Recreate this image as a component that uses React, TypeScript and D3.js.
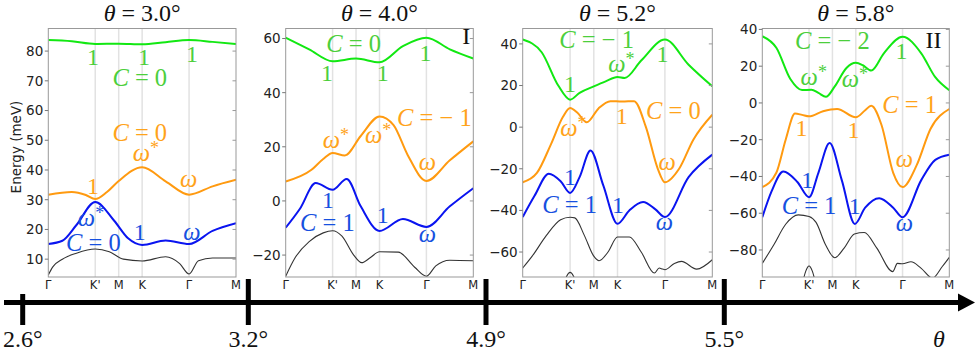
import React from "react";
import * as d3 from "d3";

// high-symmetry path Γ-K'-M-K-Γ-M, in units of |Γ-K|
const kTicks = [0, 1, 1.5, 2, 3, 4];
const kLabels = ["Γ", "K'", "M", "K", "Γ", "M"];

const thetaTitles = ["3.0", "4.0", "5.2", "5.8"];
const energyRanges = [[4, 87.6], [-28.1, 63.7], [-72, 47.4], [-94.7, 40.5]];
const energyTicks = [
  [10, 20, 30, 40, 50, 60, 70, 80],
  [-20, 0, 20, 40, 60],
  [-60, -40, -20, 0, 20, 40],
  [-80, -60, -40, -20, 0, 20, 40],
];

// bottom theta axis
const thetaMarks = ["2.6", "3.2", "4.9", "5.5"];

// ---- bands, [k, energy meV] ----
const green30 = [[0, 83.7], [0.5, 83.3], [1, 82.4], [1.5, 82.5], [2, 82.3], [2.5, 83], [3, 83.7], [3.5, 83.1], [4, 82.4]];
const orange30 = [[0, 31.7], [0.5, 32.6], [0.8, 31.6], [1, 30.2], [1.25, 32.6], [1.5, 36.3], [2, 40.9], [2.5, 36.2], [3, 31.7], [3.5, 34.5], [4, 36.7]];
const blue30 = [[0, 15.1], [0.3, 16.2], [0.6, 21.5], [1, 29.2], [1.4, 23], [1.7, 17], [2, 14.8], [2.5, 16.3], [3, 15.1], [3.5, 19.5], [4, 22.1]];
const black30 = [[0, 4.7], [0.1, 7.5], [0.3, 10], [0.6, 12], [1, 13.4], [1.3, 12.5], [1.6, 10], [2, 9.4], [2.5, 10.8], [2.8, 8.5], [3, 5.0], [3.2, 9.5], [3.5, 10.4], [4, 10.4]];

const green40 = [[0, 60.3], [0.5, 56], [1, 51.6], [1.5, 52.6], [2, 51.2], [2.5, 57.2], [3, 60.3], [3.5, 56], [4, 52.6]];
const orange40 = [[0, 7.2], [0.55, 11.5], [0.8, 15.5], [1, 17.7], [1.26, 16.8], [1.6, 24], [2, 31.2], [2.3, 28], [2.6, 17], [3, 7.4], [3.5, 15], [4, 22]];
const blue40 = [[0, -9.9], [0.3, -3], [0.64, 6.6], [1, 4.1], [1.3, 8.1], [1.6, -2], [2, -11.1], [2.5, -6.7], [3, -9.6], [3.5, -2], [4, 4.7]];
const black40 = [[0, -27.8], [0.2, -21], [0.5, -15], [0.8, -11.8], [1, -11], [1.2, -13], [1.45, -20], [1.62, -22.8], [1.8, -21], [2, -18.8], [2.4, -18.9], [2.75, -24.5], [3, -27.8], [3.2, -24], [3.5, -21.9], [4, -22.1]];

const green52 = [[0, 42.1], [0.4, 36], [0.75, 20], [1, 13.2], [1.2, 16.5], [1.5, 19.6], [1.75, 22], [2, 24.1], [2.15, 23.6], [2.5, 32], [3, 42.1], [3.5, 30], [4, 19.6]];
const orange52 = [[0, -26.5], [0.3, -22], [0.6, -8], [0.85, 5], [1, 9.2], [1.15, 7], [1.35, 2.3], [1.6, 9], [1.85, 12.5], [2.1, 12.3], [2.35, 12.5], [2.6, 0], [2.85, -20], [3, -26.5], [3.3, -20], [3.6, -6], [4, 6]];
const blue52 = [[0, -43.2], [0.25, -33], [0.55, -22.4], [0.8, -26], [1, -31.6], [1.2, -24], [1.43, -11.2], [1.7, -28], [2, -46.4], [2.25, -40], [2.54, -36], [2.8, -39.5], [3, -43.2], [3.5, -24], [4, -13.2]];
const black52 = [[0, -67.7], [0.2, -62], [0.5, -52], [0.8, -44.5], [1, -43.3], [1.1, -43.6], [1.3, -52], [1.5, -62], [1.61, -64.2], [1.8, -60], [2, -52.8], [2.25, -52.8], [2.5, -60], [2.78, -70.1], [2.88, -67.7], [2.95, -68.2], [3, -68.5], [3.2, -65.5], [3.35, -64.5], [3.67, -68.2], [4, -63.7]];
const lower52 = [[0.86, -76], [0.93, -71.5], [1, -69.8], [1.07, -71.5], [1.14, -76]];

const green58 = [[0, 36.3], [0.3, 30], [0.6, 13], [0.85, 7], [1.05, 7.2], [1.2, 5.5], [1.36, 3.3], [1.55, 9], [1.8, 19], [2, 21.8], [2.15, 20.5], [2.33, 17.6], [2.6, 27], [3, 36], [3.4, 27], [3.7, 14], [4, 6.9]];
const orange58 = [[0, -45.8], [0.3, -38], [0.5, -20], [0.7, -5.8], [0.85, -6.5], [1, -7.3], [1.3, -4.5], [1.6, -3.3], [2, -7.8], [2.2, -4], [2.33, -1.5], [2.55, -12], [2.8, -38], [3, -45.8], [3.3, -34], [3.6, -14], [4, -3.3]];
const blue58 = [[0, -62.2], [0.2, -48], [0.45, -37.3], [0.75, -43], [1, -51.3], [1.2, -38], [1.44, -21.8], [1.7, -42], [1.98, -65.8], [2.2, -57], [2.5, -51.8], [2.8, -57], [3, -62.2], [3.4, -42], [3.7, -31], [4, -28.2]];
const black58 = [[0, -87.3], [0.25, -77], [0.5, -66], [0.77, -60.9], [1, -61.8], [1.15, -65], [1.35, -77], [1.55, -84.2], [1.75, -79], [1.97, -71.3], [2.18, -70.5], [2.45, -79], [2.79, -91.8], [2.89, -87.3], [3, -87.5], [3.18, -86.4], [3.4, -90], [3.64, -95.3], [3.85, -89], [4, -84]];
const lower58 = [[0.86, -98], [0.93, -91.5], [1, -88.7], [1.07, -91.5], [1.14, -98]];

const greenBands = [green30, green40, green52, green58];
const orangeBands = [orange30, orange40, orange52, orange58];
const blueBands = [blue30, blue40, blue52, blue58];
const blackBands = [[black30], [black40], [black52, lower52], [black58, lower58]];

// annotations: [text, colour, k, energy]
const labels30 = [
  ["1", "g", 0.95, 75.3], ["1", "g", 2.04, 75.3], ["1", "g", 3.06, 76.3], ["C = 0", "g", 1.95, 68.2],
  ["C = 0", "o", 1.95, 49.7], ["ω*", "o", 2.08, 42.9], ["1", "o", 0.95, 32.0], ["ω", "o", 2.99, 34.4],
  ["ω*", "b", 0.91, 21.0], ["C = 0", "b", 0.96, 12.9], ["1", "b", 1.95, 16.3], ["ω", "b", 3.06, 16.5],
];
const labels40 = [
  ["C = 0", "g", 1.45, 54.9], ["1", "g", 0.88, 44.2], ["1", "g", 2.07, 44.2], ["1", "g", 2.98, 51.6], ["I", "k", 3.85, 57.8],
  ["C = − 1", "o", 3.17, 27.5], ["ω*", "o", 1.07, 19.5], ["ω*", "o", 1.97, 21.4], ["ω", "o", 3.02, 11.5],
  ["1", "b", 0.9, -2.7], ["C = 1", "b", 0.89, -11.0], ["1", "b", 2.07, -8.3], ["ω", "b", 3.02, -15.1],
];
const labels52 = [
  ["C = − 1", "g", 1.56, 38.1], ["1", "g", 2.95, 31.2], ["ω*", "g", 2.08, 26.3], ["1", "g", 1.0, 16.7],
  ["1", "o", 2.09, 1.7], ["C = 0", "o", 3.18, 3.9], ["ω*", "o", 1.07, -4.4], ["ω", "o", 3.05, -20.4],
  ["1", "b", 1.0, -28.0], ["C = 1", "b", 0.99, -41.3], ["1", "b", 2.01, -41.3], ["ω", "b", 2.99, -49.6],
];
const labels58 = [
  ["C = − 2", "g", 1.5, 29.5], ["1", "g", 2.98, 24.0], ["ω*", "g", 1.1, 10.0], ["ω*", "g", 1.98, 8.7], ["II", "k", 3.66, 30.0],
  ["C = 1", "o", 3.15, -5.4], ["1", "o", 0.84, -18.2], ["1", "o", 1.95, -19.1], ["ω", "o", 3.04, -34.6],
  ["1", "b", 0.96, -46.4], ["C = 1", "b", 1.0, -60.4], ["1", "b", 1.98, -60.4], ["ω", "b", 3.04, -69.5],
];
const panelLabels = [labels30, labels40, labels52, labels58];

// layout
const W = 977, H = 355;
const panelLeft = [48.3, 285.7, 522.7, 762.3];
const panelWidth = [187.7, 187.6, 189.6, 187];
const plotTop = 28.5, plotBottom = 277;
const thetaX = [22.7, 248.3, 486, 724.3];
const axisY = 302.5;

const lineColor = { g: "#12e812", o: "#ff9a10", b: "#0a14f0" };
const textColor = { g: "#4ccf3c", o: "#ffa31a", b: "#1650e0", k: "#111" };
const serif = "'Liberation Serif', 'Times New Roman', serif";
const sans = "'DejaVu Sans', sans-serif";

function Label({ text, color, x, y }) {
  const fill = textColor[color];
  const common = { x, y, fill, fontFamily: serif, fontSize: 24.5, textAnchor: "middle" };
  if (text.startsWith("C")) {
    return (
      <text {...common}>
        <tspan fontStyle="italic">C</tspan>
        <tspan>{text.slice(1)}</tspan>
      </text>
    );
  }
  if (text.startsWith("ω")) {
    return (
      <text {...common}>
        <tspan fontStyle="italic">ω</tspan>
        {text.length > 1 && <tspan dy={-7} fontSize={18}>*</tspan>}
      </text>
    );
  }
  return <text {...common} fontSize={24}>{text}</text>;
}

function Panel({ i }) {
  const left = panelLeft[i], width = panelWidth[i];
  const x = d3.scaleLinear().domain([0, 4]).range([left, left + width]);
  const y = d3.scaleLinear().domain(energyRanges[i]).range([plotBottom, plotTop]);
  const line = d3.line().x(d => x(d[0])).y(d => y(d[1])).curve(d3.curveMonotoneX);
  const clipId = "clip" + i;
  return (
    <g>
      <defs>
        <clipPath id={clipId}>
          <rect x={left} y={plotTop} width={width} height={plotBottom - plotTop} />
        </clipPath>
      </defs>
      {kTicks.slice(1, 5).map(k => (
        <line key={k} x1={x(k)} x2={x(k)} y1={plotTop} y2={plotBottom} stroke="#e2e2e2" strokeWidth={1.5} />
      ))}
      <g clipPath={`url(#${clipId})`} fill="none">
        {blackBands[i].map((b, j) => (
          <path key={j} d={line(b)} stroke="#333" strokeWidth={1.1} />
        ))}
        <path d={line(blueBands[i])} stroke={lineColor.b} strokeWidth={2} />
        <path d={line(orangeBands[i])} stroke={lineColor.o} strokeWidth={2} />
        <path d={line(greenBands[i])} stroke={lineColor.g} strokeWidth={2} />
      </g>
      <rect x={left} y={plotTop} width={width} height={plotBottom - plotTop} fill="none" stroke="#999" strokeWidth={1} />
      {energyTicks[i].map(t => (
        <g key={t}>
          <line x1={left - 3.5} x2={left} y1={y(t)} y2={y(t)} stroke="#777" />
          <line x1={left + width - 3.5} x2={left + width} y1={y(t)} y2={y(t)} stroke="#999" />
          <text x={left - 5} y={y(t)} dy="0.36em" textAnchor="end" fontFamily={sans} fontSize={13.5} fill="#222">
            {t < 0 ? "−" + Math.abs(t) : t}
          </text>
        </g>
      ))}
      {kTicks.map((k, j) => (
        <text key={j} x={x(k)} y={288.5} textAnchor="middle" fontFamily={sans} fontSize={11.5} fill="#222">
          {kLabels[j]}
        </text>
      ))}
      <text x={left + width / 2} y={21} textAnchor="middle" fontFamily={serif} fontSize={24} fill="#111">
        <tspan fontStyle="italic">θ</tspan>
        <tspan>{` = ${thetaTitles[i]}°`}</tspan>
      </text>
      {panelLabels[i].map((l, j) => (
        <Label key={j} text={l[0]} color={l[1]} x={x(l[2])} y={y(l[3])} />
      ))}
    </g>
  );
}

export default function App() {
  return (
    <div style={{ position: "absolute", left: 0, top: 0 }}>
      <svg width={W} height={H} style={{ display: "block", background: "#fff" }}>
        <text transform="translate(21,147) rotate(-90)" textAnchor="middle" fontFamily={sans} fontSize={13.5} fill="#222">
          Energy (meV)
        </text>
        {[0, 1, 2, 3].map(i => <Panel key={i} i={i} />)}
        <line x1={4} x2={960} y1={axisY} y2={axisY} stroke="#000" strokeWidth={5} />
        <path d={`M958,${axisY - 9} L975,${axisY} L958,${axisY + 9} Z`} fill="#000" />
        {thetaX.map((tx, j) => (
          <g key={j}>
            <line x1={tx} x2={tx} y1={j === 0 ? 294 : 279} y2={325} stroke="#000" strokeWidth={5} />
            <text x={tx} y={347} textAnchor="middle" fontFamily={serif} fontSize={24} fill="#111">
              {thetaMarks[j] + "°"}
            </text>
          </g>
        ))}
        <text x={939} y={347} textAnchor="middle" fontFamily={serif} fontStyle="italic" fontSize={24} fill="#111">θ</text>
      </svg>
    </div>
  );
}
